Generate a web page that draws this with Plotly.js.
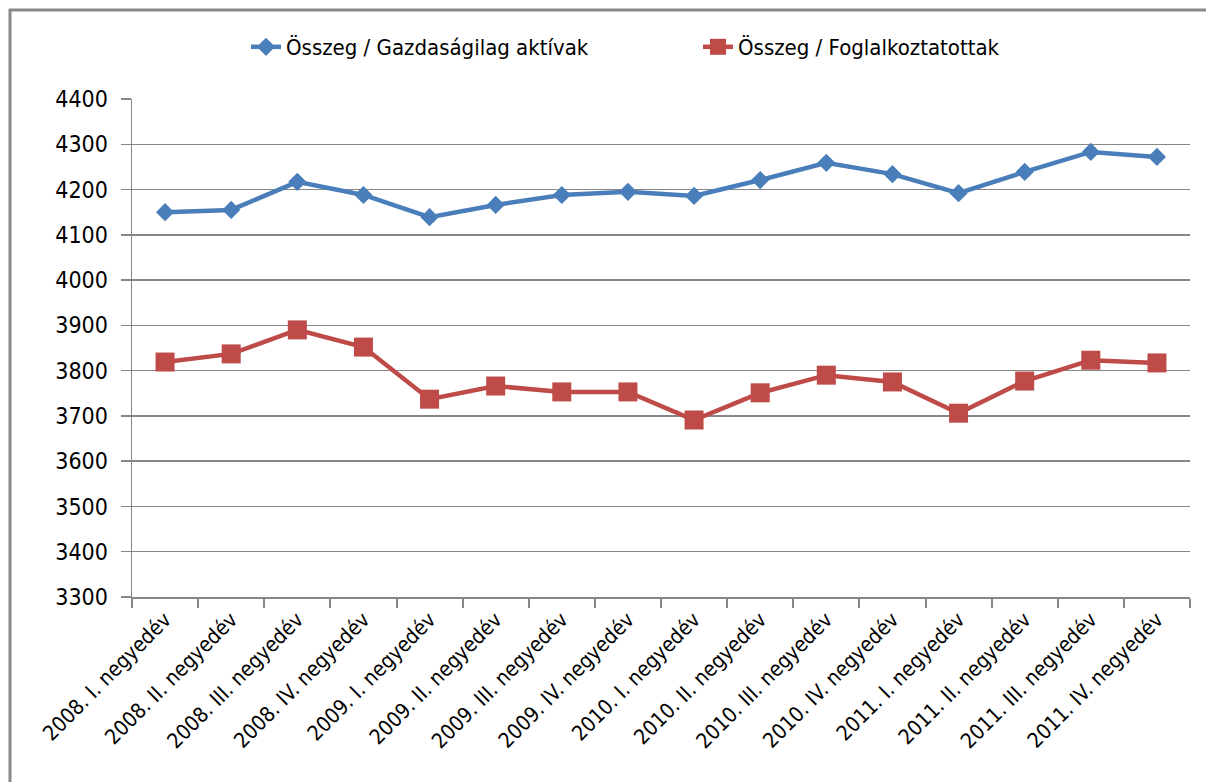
<!DOCTYPE html>
<html>
<head>
<meta charset="utf-8">
<script src="https://cdn.plot.ly/plotly-3.0.1.min.js"></script>
<style>html,body{margin:0;padding:0;background:#fff;}#chart{width:1206px;height:782px;}</style>
</head>
<body>
<div id="chart"></div>
<script>
const categories = [
  "2008. I. negyedév","2008. II. negyedév","2008. III. negyedév","2008. IV. negyedév",
  "2009. I. negyedév","2009. II. negyedév","2009. III. negyedév","2009. IV. negyedév",
  "2010. I. negyedév","2010. II. negyedév","2010. III. negyedév","2010. IV. negyedév",
  "2011. I. negyedév","2011. II. negyedév","2011. III. negyedév","2011. IV. negyedév"
];
const activeName = "Összeg / Gazdaságilag aktívak";
const employedName = "Összeg / Foglalkoztatottak";
const activeValues = [4150, 4155, 4217, 4188, 4139, 4166, 4188, 4195, 4186, 4221, 4259, 4234, 4192, 4239, 4283, 4272];
const employedValues = [3819, 3837, 3890, 3852, 3737, 3766, 3753, 3753, 3691, 3751, 3790, 3775, 3706, 3777, 3823, 3817];
const yTicks = [3300, 3400, 3500, 3600, 3700, 3800, 3900, 4000, 4100, 4200, 4300, 4400];

const FONT = '"DejaVu Sans Condensed", "DejaVu Sans", sans-serif';
const GRID = '#868686';

const traces = [
  {
    x: categories, y: activeValues, name: activeName, type: 'scatter', mode: 'lines+markers',
    line: {color: '#4a7ebb', width: 4.5},
    marker: {symbol: 'diamond', size: 14, color: '#4a7ebb'},
    legend: 'legend'
  },
  {
    x: categories, y: employedValues, name: employedName, type: 'scatter', mode: 'lines+markers',
    line: {color: '#be4b48', width: 4.5},
    marker: {symbol: 'square', size: 19, color: '#be4b48'},
    legend: 'legend2'
  }
];

const W = 1058, H = 498, L = 132, T = 99;
function px(x){ return (x - L) / W; }
function py(y){ return (T + H - y) / H; }

const legendFont = {family: FONT, size: 22, color: '#000'};

const layout = {
  width: 1206, height: 782,
  margin: {l: 132, r: 16, t: 99, b: 185},
  paper_bgcolor: '#ffffff', plot_bgcolor: '#ffffff',
  font: {family: FONT, color: '#000000', size: 20},
  showlegend: true,
  legend: {
    x: px(246), xanchor: 'left', y: py(47), yanchor: 'middle',
    font: legendFont, bgcolor: 'rgba(0,0,0,0)'
  },
  legend2: {
    x: px(698), xanchor: 'left', y: py(47), yanchor: 'middle',
    font: legendFont, bgcolor: 'rgba(0,0,0,0)'
  },
  xaxis: {
    type: 'category', tickson: 'boundaries', ticks: 'outside', ticklen: 9, tickcolor: GRID, tickwidth: 2,
    showline: true, linecolor: GRID, linewidth: 2, showgrid: false, tickangle: -45,
    tickfont: {family: FONT, size: 21, color: '#000'}, range: [-0.5, 15.5], fixedrange: true
  },
  yaxis: {
    range: [3300, 4400], tickvals: yTicks, ticks: 'outside', ticklen: 10, tickcolor: GRID, tickwidth: 1.5,
    showline: true, linecolor: GRID, linewidth: 1.5, showgrid: true, gridcolor: GRID, gridwidth: 1.5,
    zeroline: false, tickfont: {family: FONT, size: 23, color: '#000'}, ticklabelstandoff: 8, fixedrange: true
  },
  shapes: [
    {type: 'line', xref: 'paper', yref: 'paper', x0: px(9), x1: px(1206), y0: py(10), y1: py(10), line: {color: '#888', width: 3}},
    {type: 'line', xref: 'paper', yref: 'paper', x0: px(10), x1: px(10), y0: py(9), y1: py(782), line: {color: '#888', width: 3}}
  ]
};

Plotly.newPlot('chart', traces, layout, {displayModeBar: false, staticPlot: true});
</script>
</body>
</html>
